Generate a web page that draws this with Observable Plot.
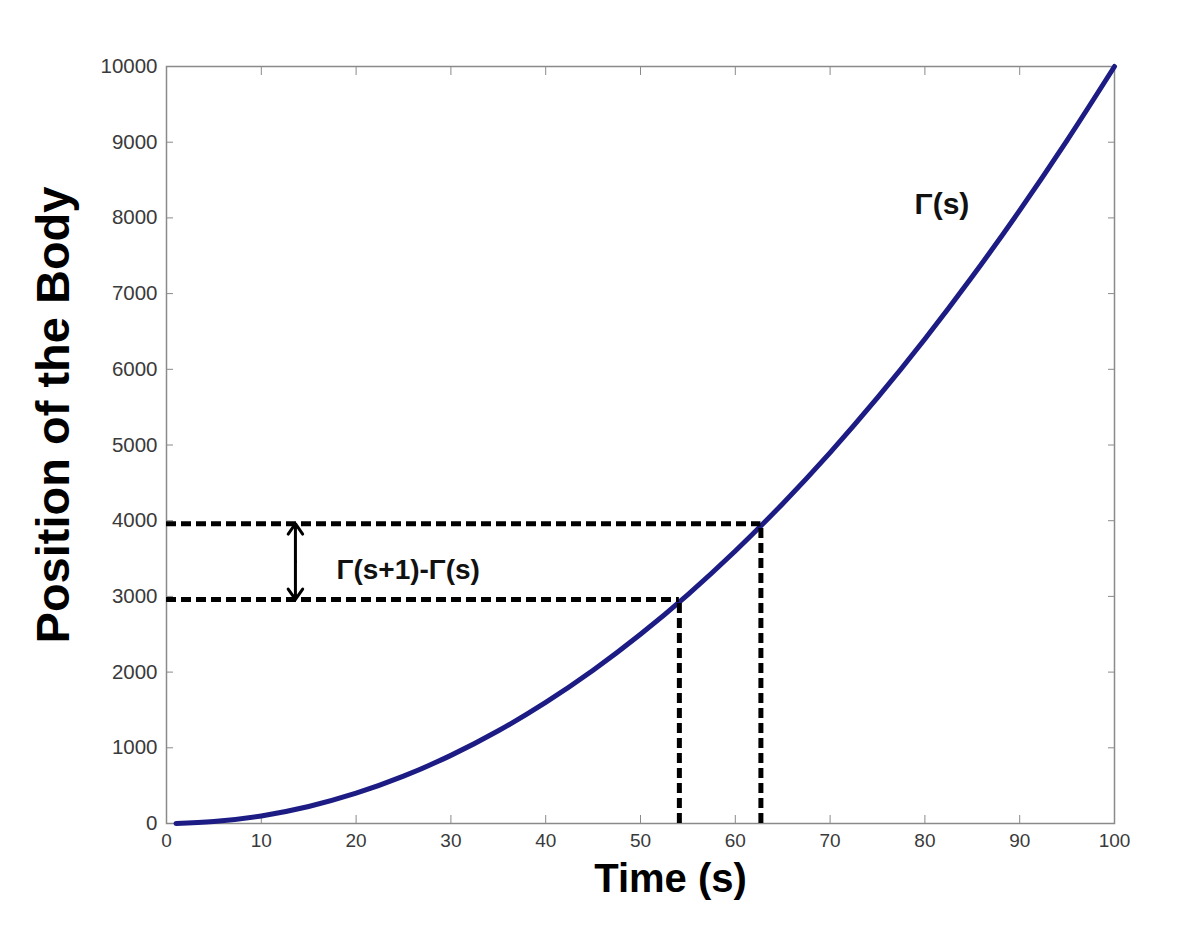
<!DOCTYPE html>
<html>
<head>
<meta charset="utf-8">
<script src="https://cdn.jsdelivr.net/npm/d3@7"></script>
<script src="https://cdn.jsdelivr.net/npm/@observablehq/plot@0.6"></script>
<style>
  html, body { margin: 0; padding: 0; background: #fff; }
  #chart svg { display: block; }
</style>
</head>
<body>
<div id="chart"></div>
<script>
// Curve: time (s) and position of the body
const timeS = [1, 5, 10, 15, 20, 25, 30, 35, 40, 45, 50, 55, 60, 65, 70, 75, 80, 85, 90, 95, 100];
const position = [0, 25, 100, 225, 400, 625, 900, 1225, 1600, 2025, 2500, 3025, 3600, 4225, 4900, 5625, 6400, 7225, 8100, 9025, 10000];

// Dashed guide lines (time where they meet the curve, position level)
const guideTime = [54.1, 62.7];
const guidePos = [2960, 3960];

// Double arrow between the two levels
const arrowTime = 13.6;

// Tick values
const xTicks = [0, 10, 20, 30, 40, 50, 60, 70, 80, 90, 100];
const yTicks = [0, 1000, 2000, 3000, 4000, 5000, 6000, 7000, 8000, 9000, 10000];

// Annotations
const curveLabel = {text: "Γ(s)", x: 81.8, y: 8180};
const diffLabel = {text: "Γ(s+1)-Γ(s)", x: 25.5, y: 3350};
const xTitle = "Time (s)";
const yTitle = "Position of the Body";

const curve = timeS.map((t, i) => ({t, p: position[i]}));
const guides = guideTime.map((t, i) => ({t, p: guidePos[i]}));
const midPos = (guidePos[0] + guidePos[1]) / 2;
const arrows = [
  {x: arrowTime, y1: midPos, y2: guidePos[1]},
  {x: arrowTime, y1: midPos, y2: guidePos[0]}
];

const font = "'Liberation Sans', Arial, Helvetica, sans-serif";
const tickColor = "#8a8a8a";
const labelColor = "#3a3a3a";

const chart = Plot.plot({
  width: 1200,
  height: 944,
  marginLeft: 166,
  marginRight: 86,
  marginTop: 66,
  marginBottom: 121,
  style: {fontFamily: font, background: "#fff"},
  x: {domain: [0, 100]},
  y: {domain: [0, 10000]},
  marks: [
    Plot.frame({stroke: tickColor, strokeWidth: 1.5}),
    Plot.axisX(xTicks, {anchor: "bottom", tickSize: -8, tickPadding: 18, fontSize: 19, color: labelColor, stroke: tickColor, label: null, tickFormat: d => String(d)}),
    Plot.axisX(xTicks, {anchor: "top", tickSize: -8, tickFormat: () => "", label: null, stroke: tickColor}),
    Plot.axisY(yTicks, {anchor: "left", tickSize: -7, tickPadding: 16, fontSize: 20.5, color: labelColor, stroke: tickColor, label: null, tickFormat: d => String(d)}),
    Plot.axisY(yTicks, {anchor: "right", tickSize: -7, tickFormat: () => "", label: null, stroke: tickColor}),
    Plot.line(curve, {x: "t", y: "p", stroke: "#1c1c84", strokeWidth: 5, curve: "catmull-rom"}),
    Plot.ruleY(guides, {y: "p", x1: 0, x2: "t", stroke: "#000", strokeWidth: 5, strokeDasharray: "10,5"}),
    Plot.ruleX(guides, {x: "t", y1: 0, y2: "p", stroke: "#000", strokeWidth: 5, strokeDasharray: "10,5"}),
    Plot.arrow(arrows, {x: "x", y1: "y1", y2: "y2", stroke: "#000", strokeWidth: 3, headLength: 10, headAngle: 70}),
    Plot.text([curveLabel], {x: "x", y: "y", text: "text", fontSize: 30, fontWeight: "bold", fill: "#111"}),
    Plot.text([diffLabel], {x: "x", y: "y", text: "text", fontSize: 28, fontWeight: "bold", fill: "#111"}),
    Plot.text([xTitle], {frameAnchor: "bottom", dx: 30, dy: 56, text: d => d, fontSize: 40, fontWeight: "bold", fill: "#000", lineAnchor: "middle", textAnchor: "middle"}),
    Plot.text([yTitle], {frameAnchor: "left", dx: -113, dy: -30, rotate: -90, text: d => d, fontSize: 47, fontWeight: "bold", fill: "#000", lineAnchor: "middle", textAnchor: "middle"})
  ]
});
document.getElementById("chart").appendChild(chart);
</script>
</body>
</html>
